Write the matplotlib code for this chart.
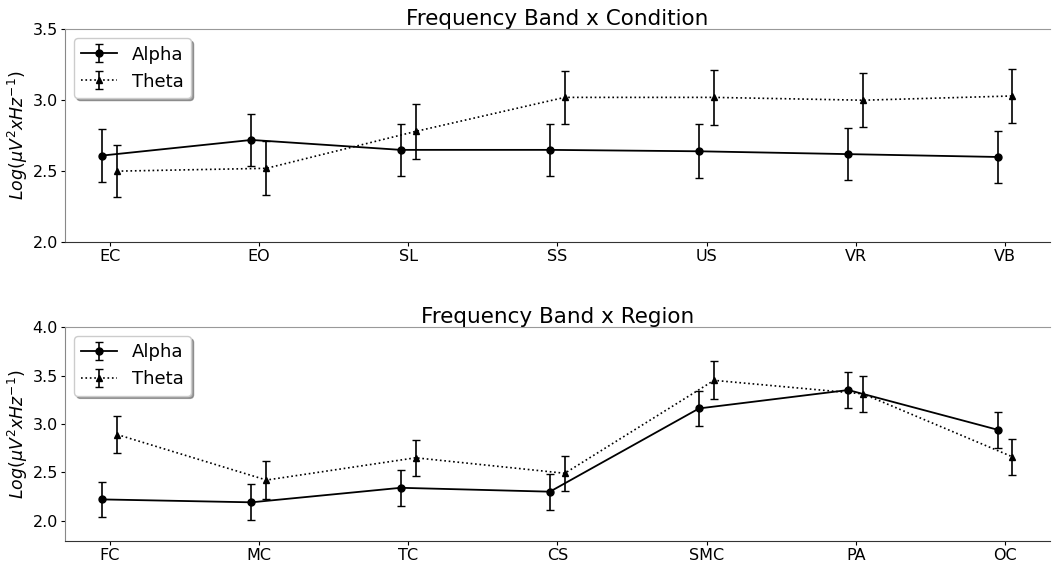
import numpy as np
import matplotlib.pyplot as plt

conditions = ["EC", "EO", "SL", "SS", "US", "VR", "VB"]
cond_alpha = [2.61, 2.72, 2.65, 2.65, 2.64, 2.62, 2.60]
cond_alpha_err = [0.185, 0.185, 0.185, 0.185, 0.19, 0.185, 0.18]
cond_theta = [2.50, 2.52, 2.78, 3.02, 3.02, 3.00, 3.03]
cond_theta_err = [0.185, 0.19, 0.195, 0.185, 0.195, 0.19, 0.19]

regions = ["FC", "MC", "TC", "CS", "SMC", "PA", "OC"]
reg_alpha = [2.22, 2.19, 2.34, 2.30, 3.16, 3.35, 2.94]
reg_alpha_err = [0.185, 0.185, 0.185, 0.185, 0.185, 0.185, 0.185]
reg_theta = [2.89, 2.42, 2.65, 2.49, 3.45, 3.31, 2.66]
reg_theta_err = [0.19, 0.195, 0.185, 0.18, 0.195, 0.19, 0.185]

fig = plt.figure(figsize=(10.55, 5.63), dpi=100)
ax1 = fig.add_axes([0.0616, 0.570, 0.9334, 0.378])
ax2 = fig.add_axes([0.0616, 0.039, 0.9334, 0.380])

panels = [
    (ax1, conditions, cond_alpha, cond_alpha_err, cond_theta, cond_theta_err,
     "Frequency Band x Condition", (2.0, 3.5), [2.0, 2.5, 3.0, 3.5]),
    (ax2, regions, reg_alpha, reg_alpha_err, reg_theta, reg_theta_err,
     "Frequency Band x Region", (1.79, 4.0), [2.0, 2.5, 3.0, 3.5, 4.0]),
]

for ax, labels, a, ae, t, te, title, ylim, yticks in panels:
    x = np.arange(len(labels))
    ax.errorbar(x - 0.05, a, yerr=ae, color="black", linestyle="-",
                marker="o", markersize=5, capsize=3, linewidth=1.3,
                elinewidth=1.2, label="Alpha")
    ax.errorbar(x + 0.05, t, yerr=te, color="black", linestyle=":",
                marker="^", markersize=5, capsize=3, linewidth=1.2,
                elinewidth=1.2, label="Theta")
    ax.set_xticks(x)
    ax.set_xticklabels(labels)
    ax.set_xlim(-0.3, 6.3)
    ax.set_ylim(*ylim)
    ax.set_yticks(yticks)
    ax.tick_params(axis="both", labelsize=11.5, length=3, pad=2)
    ax.set_title(title, fontsize=15.5, pad=3)
    ax.set_ylabel(r"$Log(\mu V^2 x Hz^{-1})$", fontsize=12.5, labelpad=2)
    ax.spines["right"].set_visible(False)
    ax.spines["top"].set_color("#999999")
    ax.spines["left"].set_color("#888888")
    ax.spines["bottom"].set_color("#333333")
    ax.legend(loc="upper left", fontsize=13, shadow=True, fancybox=True)

plt.savefig("out.png", dpi=100)
